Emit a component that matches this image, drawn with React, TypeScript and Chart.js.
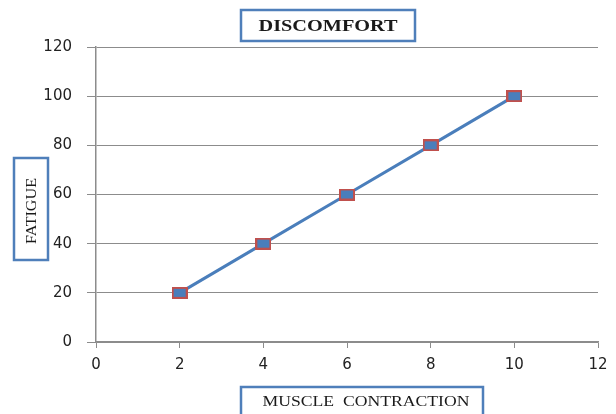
import React, { useEffect, useRef } from "react";
import { Chart, registerables } from "chart.js";

Chart.register(...registerables);

const xValues = [2, 4, 6, 8, 10];
const yValues = [20, 40, 60, 80, 100];
const titleText = "DISCOMFORT";
const yTitleText = "FATIGUE";
const xTitleText = "MUSCLE  CONTRACTION";

function makeMarker(): HTMLCanvasElement {
  const c = document.createElement("canvas");
  c.width = 16;
  c.height = 12;
  const g = c.getContext("2d")!;
  g.fillStyle = "#c0504d";
  g.fillRect(0, 0, 16, 12);
  g.fillStyle = "#4a7ebb";
  g.fillRect(2, 2, 12, 8);
  return c;
}

function drawStretched(ctx: CanvasRenderingContext2D, text: string, cx: number, cy: number, width: number) {
  const w = ctx.measureText(text).width;
  ctx.save();
  ctx.translate(cx, cy);
  ctx.scale(width / w, 1);
  ctx.fillText(text, 0, 0);
  ctx.restore();
}

const boxPlugin = {
  id: "boxTitles",
  afterDraw(chart: any) {
    const ctx = chart.ctx as CanvasRenderingContext2D;
    ctx.save();
    ctx.strokeStyle = "#4f7fba";
    ctx.lineWidth = 2.5;
    ctx.textAlign = "center";
    ctx.textBaseline = "middle";
    // title box
    const tb = { x: 241, y: 10, w: 174, h: 31 };
    ctx.fillStyle = "#ffffff";
    ctx.fillRect(tb.x, tb.y, tb.w, tb.h);
    ctx.strokeRect(tb.x, tb.y, tb.w, tb.h);
    ctx.fillStyle = "#1a1a1a";
    ctx.font = "bold 16px 'Liberation Serif'";
    drawStretched(ctx, titleText, tb.x + tb.w / 2, tb.y + tb.h / 2 + 1, 139);
    // y title box
    const yb = { x: 14, y: 158, w: 34, h: 102 };
    ctx.fillStyle = "#ffffff";
    ctx.fillRect(yb.x, yb.y, yb.w, yb.h);
    ctx.strokeRect(yb.x, yb.y, yb.w, yb.h);
    ctx.save();
    ctx.translate(yb.x + yb.w / 2 + 1, yb.y + yb.h / 2 + 2);
    ctx.rotate(-Math.PI / 2);
    ctx.fillStyle = "#1a1a1a";
    ctx.font = "15px 'Liberation Serif'";
    drawStretched(ctx, yTitleText, 0, 0, 66);
    ctx.restore();
    // x title box
    const xb = { x: 241, y: 387, w: 242, h: 40 };
    ctx.fillStyle = "#ffffff";
    ctx.fillRect(xb.x, xb.y, xb.w, xb.h);
    ctx.strokeRect(xb.x, xb.y, xb.w, xb.h);
    ctx.fillStyle = "#1a1a1a";
    ctx.font = "15px 'Liberation Serif'";
    drawStretched(ctx, xTitleText, 366, 402, 207);
    ctx.restore();
  },
};

export default function App() {
  const ref = useRef<HTMLCanvasElement | null>(null);
  useEffect(() => {
    document.body.style.margin = "0";
    const marker = makeMarker();
    const chart = new Chart(ref.current!, {
      type: "line",
      data: {
        datasets: [
          {
            data: xValues.map((x, i) => ({ x, y: yValues[i] })),
            borderColor: "#4a7ebb",
            backgroundColor: "#4a7ebb",
            borderWidth: 3,
            pointStyle: marker as any,
            pointRadius: 8,
          },
        ],
      },
      options: {
        animation: false,
        responsive: false,
        layout: { padding: { top: 47, right: 18, left: 0, bottom: 0 } },
        plugins: { legend: { display: false }, tooltip: { enabled: false } },
        scales: {
          x: {
            type: "linear",
            min: 0,
            max: 12,
            ticks: {
              stepSize: 2,
              color: "#222",
              font: { family: "'DejaVu Sans'", size: 15 },
              padding: 8,
            },
            grid: { drawOnChartArea: false, drawTicks: true, tickLength: 6, color: "#8c8c8c" },
            border: { color: "#8c8c8c", width: 1.5 },
            afterFit(scale: any) {
              scale.height = 72;
            },
          },
          y: {
            min: 0,
            max: 120,
            ticks: {
              stepSize: 20,
              color: "#222",
              font: { family: "'DejaVu Sans'", size: 15 },
              padding: 15,
            },
            grid: { color: "#8c8c8c", tickLength: 9, lineWidth: 1 },
            border: { color: "#8c8c8c", width: 1.5 },
            afterFit(scale: any) {
              scale.width = 96;
            },
          },
        },
      },
      plugins: [boxPlugin],
    });
    return () => chart.destroy();
  }, []);
  return <canvas ref={ref} width={616} height={414} style={{ display: "block" }} />;
}
